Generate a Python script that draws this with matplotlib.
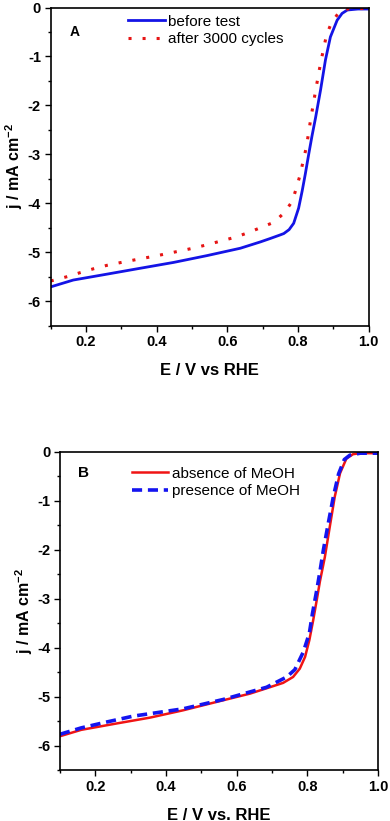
import matplotlib
matplotlib.use('Agg')
import matplotlib.pyplot as plt
from matplotlib.ticker import MultipleLocator, FormatStrFormatter

plt.rcParams['font.family'] = ['Liberation Sans', 'DejaVu Sans']
plt.rcParams['axes.unicode_minus'] = False
plt.rcParams['mathtext.fontset'] = 'custom'
plt.rcParams['mathtext.rm'] = 'Liberation Sans'
plt.rcParams['mathtext.bf'] = 'Liberation Sans:bold'

# panel A: stability test
e_before = [0.10, 0.164, 0.259, 0.353, 0.448, 0.543, 0.637, 0.694, 0.722, 0.749, 0.76, 0.775,
            0.788, 0.802, 0.812, 0.821, 0.831, 0.840, 0.850, 0.864, 0.878, 0.892, 0.911, 0.925,
            0.94, 0.97, 1.0]
j_before = [-5.71, -5.57, -5.45, -5.33, -5.21, -5.07, -4.92, -4.79, -4.72, -4.65, -4.62, -4.54,
            -4.41, -4.10, -3.75, -3.40, -2.98, -2.62, -2.25, -1.69, -1.07, -0.60, -0.26, -0.12,
            -0.05, -0.03, -0.03]

e_after = [0.10, 0.147, 0.183, 0.221, 0.259, 0.30, 0.358, 0.396, 0.436, 0.47, 0.509, 0.547,
           0.583, 0.62, 0.656, 0.694, 0.732, 0.762, 0.784, 0.796, 0.807, 0.815, 0.824, 0.836,
           0.850, 0.864, 0.881, 0.895, 0.921, 0.95, 1.0]
j_after = [-5.59, -5.50, -5.42, -5.34, -5.27, -5.21, -5.13, -5.08, -5.02, -4.97, -4.91, -4.84,
           -4.77, -4.70, -4.61, -4.50, -4.39, -4.19, -3.96, -3.68, -3.40, -3.13, -2.85, -2.29,
           -1.70, -1.14, -0.56, -0.31, -0.05, -0.02, -0.02]

# panel B: methanol tolerance
e_absence = [0.10, 0.16, 0.26, 0.355, 0.449, 0.543, 0.638, 0.694, 0.732, 0.76, 0.779, 0.794,
             0.806, 0.817, 0.827, 0.836, 0.85, 0.864, 0.878, 0.893, 0.911, 0.93, 0.95, 1.0]
j_absence = [-5.81, -5.68, -5.55, -5.43, -5.28, -5.11, -4.94, -4.81, -4.72, -4.60, -4.43, -4.19,
             -3.85, -3.44, -3.03, -2.65, -2.15, -1.53, -0.92, -0.44, -0.14, -0.05, -0.03, -0.03]

e_presence = [0.10, 0.16, 0.232, 0.307, 0.449, 0.562, 0.685, 0.742, 0.765, 0.789, 0.806, 0.815,
              0.827, 0.836, 0.846, 0.860, 0.874, 0.889, 0.905, 0.921, 0.95, 1.0]
j_presence = [-5.77, -5.64, -5.52, -5.40, -5.25, -5.06, -4.81, -4.60, -4.45, -4.09, -3.71, -3.30,
              -2.83, -2.45, -2.0, -1.45, -0.92, -0.45, -0.16, -0.07, -0.03, -0.03]

y_ticks = [0, -1, -2, -3, -4, -5, -6]


def style_axes(ax, xlabel, ylabel, letter, letter_pos, ylab_x, letter_size):
	ax.set_xlim(0.1, 1.0)
	ax.set_ylim(-6.5, 0)
	ax.xaxis.set_major_locator(MultipleLocator(0.2))
	ax.xaxis.set_minor_locator(MultipleLocator(0.1))
	ax.xaxis.set_major_formatter(FormatStrFormatter('%.1f'))
	ax.set_yticks(y_ticks)
	ax.yaxis.set_minor_locator(MultipleLocator(0.5))
	ax.tick_params(which='both', direction='out', top=False, right=False, width=1.0)
	ax.tick_params(which='major', length=4, labelsize=10.5, pad=3)
	ax.tick_params(which='minor', length=2.2)
	for lab in ax.get_xticklabels() + ax.get_yticklabels():
		lab.set_fontweight('bold')
	for sp in ax.spines.values():
		sp.set_linewidth(1.2)
	ax.set_xlabel(xlabel, fontsize=12, fontweight='bold', va='top')
	ax.xaxis.set_label_coords(0.5, -0.118)
	ax.set_ylabel(ylabel, fontsize=11.5, fontweight='bold')
	ax.yaxis.set_label_coords(ylab_x, 0.5)
	ax.text(letter_pos[0], letter_pos[1], letter, transform=ax.transAxes,
		fontsize=letter_size, fontweight='bold', ha='center', va='center')


fig = plt.figure(figsize=(3.9, 8.21), dpi=100)

ax1 = fig.add_axes([0.130, 0.6035, 0.815, 0.3873])
ax1.plot(e_before, j_before, color='#1414e6', lw=2.0, label='before test')
ax1.plot(e_after, j_after, color='#e61414', lw=2.2, linestyle=(0, (1, 3.6)),
	label='after 3000 cycles')
style_axes(ax1, 'E / V vs RHE', r'j / mA cm$^{\mathbf{-2}}$', 'A', (0.076, 0.923), -0.082, 10)
ax1.legend(loc='upper left', bbox_to_anchor=(0.243, 0.978), frameon=False, fontsize=11,
	handlelength=2.4, handletextpad=0.25, labelspacing=0.25, borderpad=0, borderaxespad=0)

ax2 = fig.add_axes([0.1538, 0.0621, 0.815, 0.3877])
ax2.plot(e_absence, j_absence, color='#f01414', lw=1.8, label='absence of MeOH')
ax2.plot(e_presence, j_presence, color='#1414f0', lw=2.6, linestyle=(0, (2.8, 1.6)),
	label='presence of MeOH')
style_axes(ax2, 'E / V vs. RHE', r'j / mA cm$^{\mathbf{-2}}$', 'B', (0.075, 0.933), -0.078, 11)
ax2.legend(loc='upper left', bbox_to_anchor=(0.226, 0.953), frameon=False, fontsize=11,
	handlelength=2.4, handletextpad=0.25, labelspacing=0.25, borderpad=0, borderaxespad=0)

fig.savefig('out.png', dpi=100)
